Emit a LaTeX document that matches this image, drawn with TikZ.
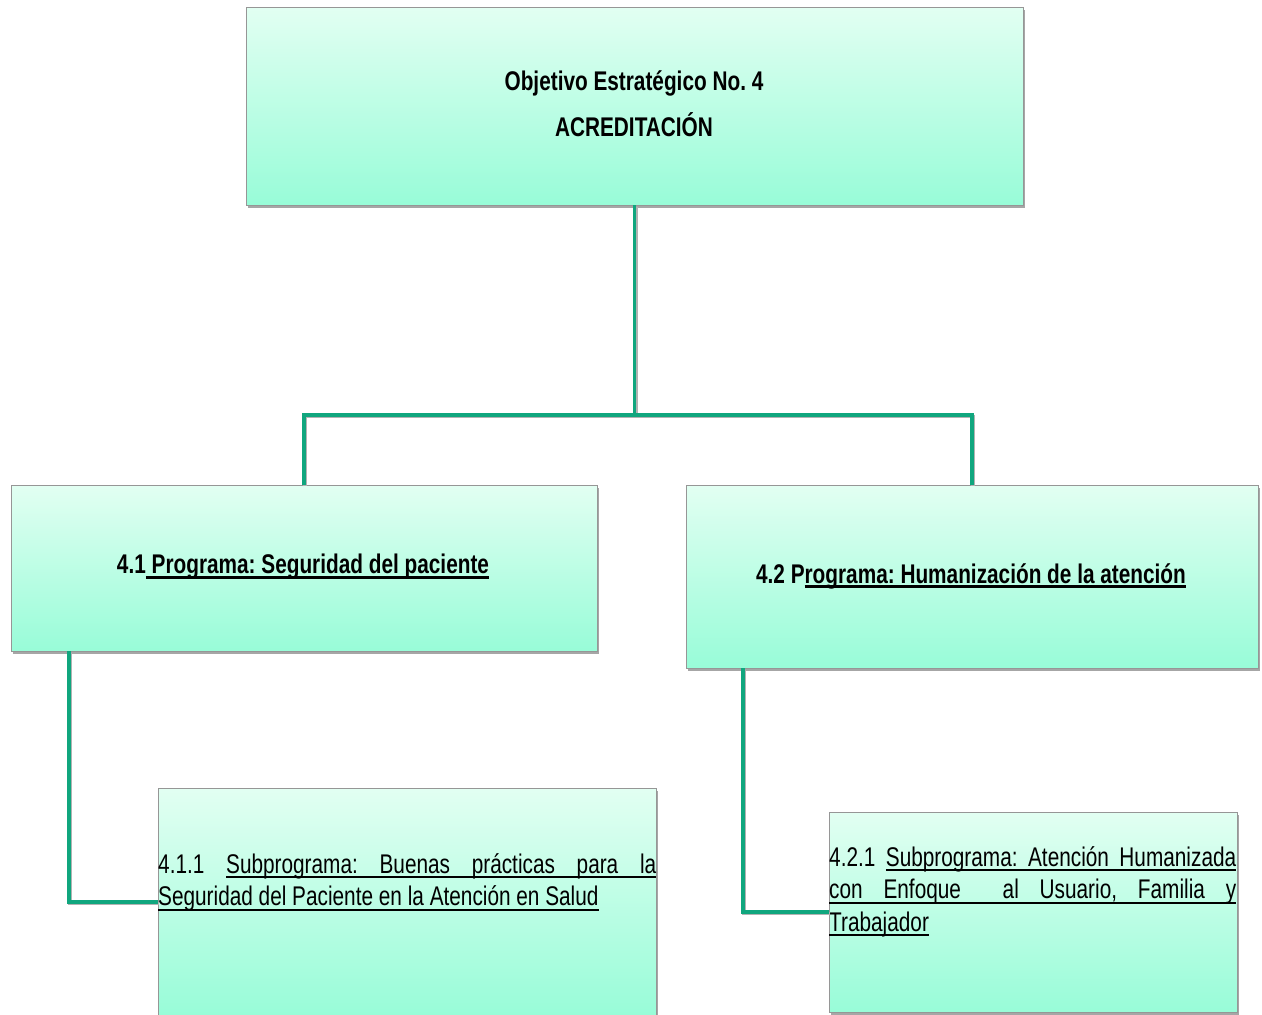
\documentclass[tikz,border=0pt]{standalone}
\usepackage{fontspec}
\setmainfont{Liberation Sans}[FakeStretch=0.77]
\usetikzlibrary{shadows}
\frenchspacing

\definecolor{link}{RGB}{16,166,126}
\definecolor{boxtop}{RGB}{226,255,242}
\definecolor{boxbot}{RGB}{152,252,216}
\definecolor{edge}{RGB}{150,150,150}

% underline helpers: a word with a rule under it, and an underlined stretchable space
\newlength\lineulpos
\newlength\lineulthick
\setlength\lineulpos{5pt}
\setlength\lineulthick{2pt}
\newcommand\ulw[1]{\setbox0\hbox{#1}\rlap{\rule[-\lineulpos]{\wd0}{\lineulthick}}\box0}
\newcommand\uls{\leaders\hrule height \dimexpr\lineulthick-\lineulpos\relax depth \lineulpos\hfil}

\tikzset{
  card/.style={draw=edge, line width=0.8pt, top color=boxtop, bottom color=boxbot,
    inner sep=0pt, drop shadow={shadow xshift=2pt, shadow yshift=-3pt, fill=black, opacity=.35}},
  wire/.style={draw=link, line width=3.6pt,
    preaction={draw=gray!60, line width=3.6pt, transform canvas={xshift=1.2pt, yshift=-1.6pt}}},
  headtxt/.style={font=\bfseries\fontsize{27}{46}\selectfont, align=center, inner sep=0pt},
  subtxt/.style={font=\fontsize{27}{32.5}\selectfont, inner sep=0pt, anchor=base west},
}

\begin{document}
\begin{tikzpicture}[x=1pt, y=-1pt]
  \useasboundingbox (0,0) rectangle (1262,1015);
  \clip (0,0) rectangle (1262,1015);

  % boxes
  \node[card, minimum width=777pt, minimum height=198pt] (obj) at (634.5,106) {};
  \node[card, minimum width=586pt, minimum height=166pt] (p41) at (304,568) {};
  \node[card, minimum width=572pt, minimum height=183pt] (p42) at (972,576.5) {};
  \node[card, minimum width=498pt, minimum height=228pt] (s411) at (407,902) {};
  \node[card, minimum width=408pt, minimum height=200pt] (s421) at (1033,912) {};

  % box texts
  \node[headtxt] (objtxt) at (634,104) {Objetivo Estratégico No. 4\\ACREDITACIÓN};
  \node[headtxt] (p41txt) at (303,567) {\setlength\lineulthick{2.6pt}4.1\ulw{\ Programa: Seguridad del paciente}};
  \node[headtxt] (p42txt) at (971,576) {\setlength\lineulthick{2.6pt}4.2 P\ulw{rograma: Humanización de la atención}};

  \node[subtxt] (s411txt) at (158,873) {\parbox[t]{498pt}{%
    \hbox to 498pt{4.1.1\hfil\ulw{Subprograma:}\uls\ulw{Buenas}\uls\ulw{prácticas}\uls\ulw{para}\uls\ulw{la}}%
    \hbox to 498pt{\ulw{Seguridad del Paciente en la Atención en Salud}\hfil}}};

  \node[subtxt] (s421txt) at (829,866) {\parbox[t]{407pt}{%
    \hbox to 407pt{4.2.1\hfil\ulw{Subprograma:}\uls\ulw{Atención}\uls\ulw{Humanizada}}%
    \hbox to 407pt{\ulw{con}\uls\ulw{Enfoque}\uls\uls\ulw{al}\uls\ulw{Usuario,}\uls\ulw{Familia}\uls\ulw{y}}%
    \hbox to 407pt{\ulw{Trabajador}\hfil}}};

  % connectors
  \coordinate (fork) at (634.5,415);
  \coordinate (drop41) at (69,651);
  \coordinate (drop42) at (743,668);
  \draw[wire] (obj.south) -- (fork);
  \draw[wire] (p41.north) |- (fork) -| (p42.north);
  \draw[wire] (drop41) |- (s411.west);
  \draw[wire] (drop42) |- (s421.west);
\end{tikzpicture}
\end{document}
